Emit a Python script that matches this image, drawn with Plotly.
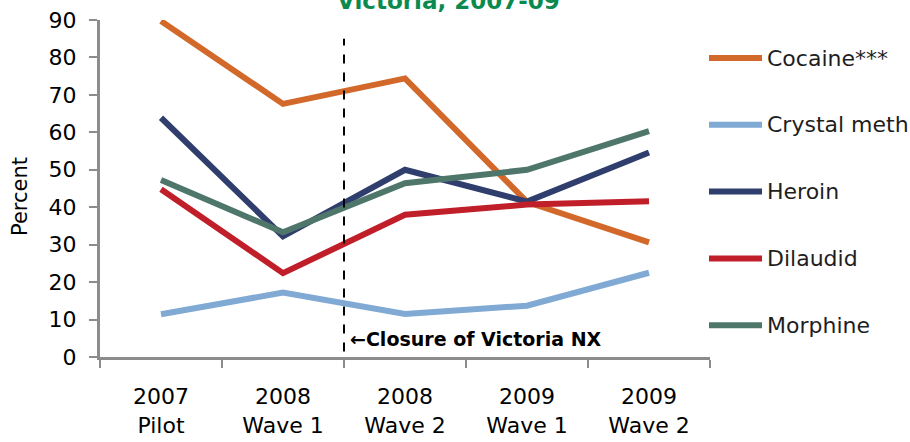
import plotly.graph_objects as go

categories = ["2007<br>Pilot", "2008<br>Wave 1", "2008<br>Wave 2", "2009<br>Wave 1", "2009<br>Wave 2"]
cocaine = [89.7, 67.6, 74.4, 41.4, 30.6]
crystal_meth = [11.4, 17.2, 11.5, 13.7, 22.5]
heroin = [63.9, 32.2, 50.0, 41.5, 54.6]
dilaudid = [44.8, 22.4, 38.0, 40.7, 41.6]
morphine = [47.3, 33.3, 46.4, 50.0, 60.3]

series = [
    ("Cocaine***", cocaine, "#D2692A"),
    ("Crystal meth", crystal_meth, "#80A9D4"),
    ("Heroin", heroin, "#2F3E6C"),
    ("Dilaudid", dilaudid, "#C01F2A"),
    ("Morphine", morphine, "#4F766A"),
]

font_family = "DejaVu Sans"

# layout geometry (pixels)
W, H = 910, 442
ML, MR, MT, MB = 100, 200, 20, 85
PW, PH = W - ML - MR, H - MT - MB


def px_x(px):
    return (px - ML) / PW


def px_y(py):
    return (H - MB - py) / PH


fig = go.Figure()
for name, vals, color in series:
    fig.add_trace(go.Scatter(
        x=categories, y=vals, name=name, mode="lines",
        line=dict(color=color, width=6), showlegend=False,
    ))

# manual legend (long line samples like the reference)
legend_top_px, legend_step_px = 58, 66.8
for i, (name, vals, color) in enumerate(series):
    yy = px_y(legend_top_px + i * legend_step_px)
    fig.add_shape(type="line", xref="paper", yref="paper",
                  x0=px_x(709), x1=px_x(762), y0=yy, y1=yy,
                  line=dict(color=color, width=6))
    fig.add_annotation(text=name, xref="paper", yref="paper",
                       x=px_x(765), y=yy, xanchor="left", yanchor="middle",
                       showarrow=False, font=dict(size=22, color="#1e1e1e"))

fig.add_shape(type="line", xref="x", yref="y", x0=1.5, x1=1.5, y0=1.5, y1=85,
              line=dict(color="black", width=2, dash="dash"))

fig.add_annotation(text="\u2190Closure of Victoria NX", xref="x", yref="y",
                   x=1.5, y=4.8, xanchor="left", yanchor="middle", xshift=4,
                   showarrow=False,
                   font=dict(family=font_family, size=19, color="black", weight="bold"))

fig.add_annotation(text="Victoria, 2007-09", xref="paper", yref="paper",
                   x=px_x(448), y=1, yshift=4, xanchor="center", yanchor="bottom",
                   showarrow=False,
                   font=dict(family=font_family, size=23, color="#0A8A4F", weight="bold"))

fig.add_annotation(text="Percent", xref="paper", yref="paper",
                   x=px_x(20), y=px_y(197), textangle=-90,
                   xanchor="center", yanchor="middle", showarrow=False,
                   font=dict(size=21, color="black"))

fig.update_layout(
    width=W, height=H,
    margin=dict(l=ML, r=MR, t=MT, b=MB),
    paper_bgcolor="white", plot_bgcolor="white",
    font=dict(family=font_family, size=22, color="black"),
    showlegend=False,
    xaxis=dict(type="category", range=[-0.5, 4.5], tickson="boundaries",
               ticks="outside", ticklen=8, tickcolor="#8c8c8c", tickwidth=2,
               showline=True, linecolor="#8c8c8c", linewidth=3,
               showgrid=False, zeroline=False, ticklabelstandoff=18,
               automargin=False, tickfont=dict(size=22)),
    yaxis=dict(range=[0, 90], dtick=10, ticks="outside", ticklen=8,
               tickcolor="#8c8c8c", tickwidth=2, showline=True, linecolor="#8c8c8c",
               linewidth=3, showgrid=False, zeroline=False, automargin=False,
               ticklabelstandoff=8, tickfont=dict(size=22)),
)

fig.write_html("out.html", config={"displayModeBar": False},
               post_script="document.body.style.margin='0';document.body.style.overflow='hidden';")
